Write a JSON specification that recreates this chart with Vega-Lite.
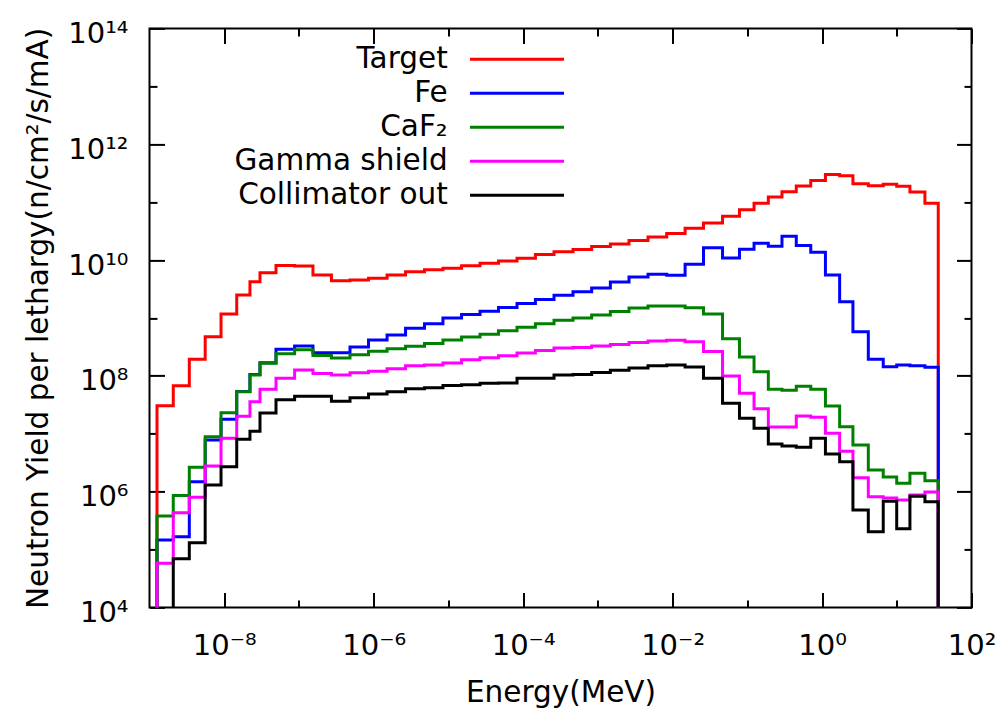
{
  "$schema": "https://vega.github.io/schema/vega-lite/v6.json",
  "width": 822,
  "height": 579,
  "autosize": {"type": "none"},
  "padding": {"left": 149.5, "top": 28.4, "right": 26.5, "bottom": 105.6},
  "background": "white",
  "config": {
    "font": "DejaVu Sans",
    "view": {"stroke": "black", "strokeWidth": 2},
    "axis": {
      "domain": false,
      "grid": false,
      "ticks": true,
      "tickColor": "black",
      "tickWidth": 2,
      "labelColor": "black",
      "labelFont": "DejaVu Sans",
      "titleFont": "DejaVu Sans",
      "titleColor": "black",
      "titleFontWeight": "normal",
      "labelFlush": false,
      "labelOverlap": false
    }
  },
  "data": {
    "values": [
      {"e": 1e-9, "Target": 1, "Fe": 1, "CaF2": 1, "Gamma": 1, "Collimator": 1},
      {"e": 1.26e-9, "Target": 3.05e7, "Fe": 1.46e5, "CaF2": 3.79e5, "Gamma": 5.78e4, "Collimator": 1},
      {"e": 2.08e-9, "Target": 6.75e7, "Fe": 1.66e5, "CaF2": 8.57e5, "Gamma": 4.32e5, "Collimator": 6.9e4},
      {"e": 3.41e-9, "Target": 1.93e8, "Fe": 1.48e6, "CaF2": 2.63e6, "Gamma": 7.98e5, "Collimator": 1.31e5},
      {"e": 5.56e-9, "Target": 4.73e8, "Fe": 7.78e6, "CaF2": 8.87e6, "Gamma": 2.77e6, "Collimator": 1.3e6},
      {"e": 9.06e-9, "Target": 1.17e9, "Fe": 1.77e7, "CaF2": 2.31e7, "Gamma": 8.34e6, "Collimator": 2.69e6},
      {"e": 1.47e-8, "Target": 2.49e9, "Fe": 5.36e7, "CaF2": 5.31e7, "Gamma": 2.0e7, "Collimator": 8.0e6},
      {"e": 2.21e-8, "Target": 4.22e9, "Fe": 1.05e8, "CaF2": 1.03e8, "Gamma": 3.57e7, "Collimator": 1.1e7},
      {"e": 3.01e-8, "Target": 6.04e9, "Fe": 1.68e8, "CaF2": 1.64e8, "Gamma": 5.85e7, "Collimator": 2.28e7},
      {"e": 4.93e-8, "Target": 8.04e9, "Fe": 2.88e8, "CaF2": 2.41e8, "Gamma": 9.06e7, "Collimator": 3.86e7},
      {"e": 8.75e-8, "Target": 7.87e9, "Fe": 3.27e8, "CaF2": 2.82e8, "Gamma": 1.26e8, "Collimator": 4.45e7},
      {"e": 1.54e-7, "Target": 5.51e9, "Fe": 2.51e8, "CaF2": 2.24e8, "Gamma": 1.1e8, "Collimator": 4.44e7},
      {"e": 2.72e-7, "Target": 4.39e9, "Fe": 2.51e8, "CaF2": 2.03e8, "Gamma": 1.03e8, "Collimator": 3.64e7},
      {"e": 4.82e-7, "Target": 4.52e9, "Fe": 3.14e8, "CaF2": 2.31e8, "Gamma": 1.13e8, "Collimator": 4.17e7},
      {"e": 8.53e-7, "Target": 4.83e9, "Fe": 4.15e8, "CaF2": 2.65e8, "Gamma": 1.2e8, "Collimator": 4.85e7},
      {"e": 1.51e-6, "Target": 5.51e9, "Fe": 5.07e8, "CaF2": 2.92e8, "Gamma": 1.32e8, "Collimator": 5.31e7},
      {"e": 2.67e-6, "Target": 6.28e9, "Fe": 6.61e8, "CaF2": 3.23e8, "Gamma": 1.49e8, "Collimator": 5.96e7},
      {"e": 4.79e-6, "Target": 6.79e9, "Fe": 7.94e8, "CaF2": 3.61e8, "Gamma": 1.54e8, "Collimator": 6.21e7},
      {"e": 8.45e-6, "Target": 7.19e9, "Fe": 9.96e8, "CaF2": 4.15e8, "Gamma": 1.66e8, "Collimator": 6.79e7},
      {"e": 1.5e-5, "Target": 7.98e9, "Fe": 1.14e9, "CaF2": 4.68e8, "Gamma": 1.9e8, "Collimator": 7.02e7},
      {"e": 2.65e-5, "Target": 8.77e9, "Fe": 1.3e9, "CaF2": 5.23e8, "Gamma": 2.05e8, "Collimator": 7.41e7},
      {"e": 4.68e-5, "Target": 9.62e9, "Fe": 1.51e9, "CaF2": 5.98e8, "Gamma": 2.21e8, "Collimator": 7.51e7},
      {"e": 8.28e-5, "Target": 1.07e10, "Fe": 1.77e9, "CaF2": 6.9e8, "Gamma": 2.48e8, "Collimator": 9.06e7},
      {"e": 1.46e-4, "Target": 1.25e10, "Fe": 2.08e9, "CaF2": 7.94e8, "Gamma": 2.74e8, "Collimator": 9.06e7},
      {"e": 2.59e-4, "Target": 1.39e10, "Fe": 2.46e9, "CaF2": 9.09e8, "Gamma": 3.02e8, "Collimator": 1.03e8},
      {"e": 4.65e-4, "Target": 1.52e10, "Fe": 2.83e9, "CaF2": 9.96e8, "Gamma": 3.08e8, "Collimator": 1.05e8},
      {"e": 8.26e-4, "Target": 1.71e10, "Fe": 3.28e9, "CaF2": 1.12e9, "Gamma": 3.27e8, "Collimator": 1.14e8},
      {"e": 1.47e-3, "Target": 1.89e10, "Fe": 4.17e9, "CaF2": 1.29e9, "Gamma": 3.47e8, "Collimator": 1.25e8},
      {"e": 2.61e-3, "Target": 2.17e10, "Fe": 5.08e9, "CaF2": 1.48e9, "Gamma": 3.76e8, "Collimator": 1.37e8},
      {"e": 4.69e-3, "Target": 2.49e10, "Fe": 5.69e9, "CaF2": 1.61e9, "Gamma": 3.99e8, "Collimator": 1.49e8},
      {"e": 8.34e-3, "Target": 2.87e10, "Fe": 5.44e9, "CaF2": 1.61e9, "Gamma": 4.1e8, "Collimator": 1.54e8},
      {"e": 1.47e-2, "Target": 3.52e10, "Fe": 8.43e9, "CaF2": 1.5e9, "Gamma": 3.88e8, "Collimator": 1.42e8},
      {"e": 2.59e-2, "Target": 4.36e10, "Fe": 1.63e10, "CaF2": 1.17e9, "Gamma": 2.63e8, "Collimator": 9.06e7},
      {"e": 4.66e-2, "Target": 5.69e10, "Fe": 1.08e10, "CaF2": 4.36e8, "Gamma": 9.93e7, "Collimator": 3.35e7},
      {"e": 7.85e-2, "Target": 7.4e10, "Fe": 1.54e10, "CaF2": 2.11e8, "Gamma": 4.99e7, "Collimator": 1.85e7},
      {"e": 0.123, "Target": 9.53e10, "Fe": 1.94e10, "CaF2": 1.18e8, "Gamma": 2.69e7, "Collimator": 1.24e7},
      {"e": 0.191, "Target": 1.22e11, "Fe": 1.73e10, "CaF2": 5.85e7, "Gamma": 1.31e7, "Collimator": 6.64e6},
      {"e": 0.291, "Target": 1.51e11, "Fe": 2.56e10, "CaF2": 5.62e7, "Gamma": 1.31e7, "Collimator": 6.14e6},
      {"e": 0.452, "Target": 1.9e11, "Fe": 1.78e10, "CaF2": 6.59e7, "Gamma": 2.02e7, "Collimator": 5.82e6},
      {"e": 0.706, "Target": 2.36e11, "Fe": 1.36e10, "CaF2": 5.85e7, "Gamma": 1.92e7, "Collimator": 8.34e6},
      {"e": 1.11, "Target": 3.0e11, "Fe": 5.51e9, "CaF2": 3.01e7, "Gamma": 1.02e7, "Collimator": 4.46e6},
      {"e": 1.72, "Target": 2.84e11, "Fe": 1.91e9, "CaF2": 1.32e7, "Gamma": 4.99e6, "Collimator": 3.28e6},
      {"e": 2.59, "Target": 2.08e11, "Fe": 5.78e8, "CaF2": 6.38e6, "Gamma": 1.73e6, "Collimator": 4.81e5},
      {"e": 4.16, "Target": 1.92e11, "Fe": 1.93e8, "CaF2": 2.36e6, "Gamma": 8.17e5, "Collimator": 2.03e5},
      {"e": 6.59, "Target": 2.04e11, "Fe": 1.44e8, "CaF2": 1.79e6, "Gamma": 7.75e5, "Collimator": 6.82e5},
      {"e": 9.98, "Target": 1.87e11, "Fe": 1.54e8, "CaF2": 1.39e6, "Gamma": 7.16e5, "Collimator": 2.28e5},
      {"e": 15.0, "Target": 1.49e11, "Fe": 1.49e8, "CaF2": 2.07e6, "Gamma": 8.73e5, "Collimator": 8.3e5},
      {"e": 23.8, "Target": 9.53e10, "Fe": 1.4e8, "CaF2": 1.54e6, "Gamma": 9.84e5, "Collimator": 6.7e5},
      {"e": 35.9, "Target": 1, "Fe": 1, "CaF2": 1, "Gamma": 1, "Collimator": 1}
    ]
  },
  "transform": [
    {"fold": ["Target", "Fe", "CaF2", "Gamma", "Collimator"], "as": ["series", "flux"]}
  ],
  "layer": [
    {
      "mark": {"type": "line", "interpolate": "step-after", "strokeWidth": 3, "clip": true},
      "encoding": {
        "x": {
          "field": "e", "type": "quantitative",
          "scale": {"type": "log", "domain": [1e-9, 100], "nice": false},
          "axis": {
            "orient": "bottom",
            "values": [1e-8, 1e-6, 1e-4, 0.01, 1, 100],
            "tickSize": -15,
            "labelPadding": 62.5,
            "labelBaseline": "alphabetic",
            "labelFontSize": 29,
            "labelExpr": "'10' + replace(replace(replace(replace(replace(replace(replace(replace(replace(replace(replace(toString(round(log(datum.value)/LN10)), '-', '⁻'), '0', '⁰'), '1', '¹'), '2', '²'), '3', '³'), '4', '⁴'), '5', '⁵'), '6', '⁶'), '7', '⁷'), '8', '⁸'), '9', '⁹')",
            "title": "Energy(MeV)",
            "titleFontSize": 29.5,
            "titleBaseline": "alphabetic",
            "titleX": 411,
            "titleY": 94.5
          }
        },
        "y": {
          "field": "flux", "type": "quantitative",
          "scale": {"type": "log", "domain": [1e4, 1e14], "nice": false},
          "axis": {
            "orient": "left",
            "values": [1e4, 1e6, 1e8, 1e10, 1e12, 1e14],
            "tickSize": -15,
            "labelPadding": 36.5,
            "labelBaseline": "alphabetic",
            "labelOffset": 14,
            "labelFontSize": 29,
            "labelExpr": "'10' + replace(replace(replace(replace(replace(replace(replace(replace(replace(replace(replace(toString(round(log(datum.value)/LN10)), '-', '⁻'), '0', '⁰'), '1', '¹'), '2', '²'), '3', '³'), '4', '⁴'), '5', '⁵'), '6', '⁶'), '7', '⁷'), '8', '⁸'), '9', '⁹')",
            "title": "Neutron Yield per lethargy(n/cm²/s/mA)",
            "titleFontSize": 29.5,
            "titleBaseline": "alphabetic",
            "titleAngle": -90,
            "titleX": -102.5,
            "titleY": 289.5
          }
        },
        "color": {
          "field": "series", "type": "nominal",
          "scale": {
            "domain": ["Target", "Fe", "CaF2", "Gamma", "Collimator"],
            "range": ["#ff0000", "#0000ff", "#008000", "#ff00ff", "#000000"]
          },
          "legend": {
            "orient": "none",
            "legendX": 352.75,
            "legendY": 16.15,
            "title": null,
            "padding": 0,
            "symbolType": "M-4,0H4",
            "symbolSize": 552.25,
            "symbolStrokeWidth": 3,
            "labelFont": "DejaVu Sans",
            "labelFontSize": 29.5,
            "labelColor": "black",
            "labelAlign": "right",
            "labelOffset": -84.05,
            "labelLimit": 400,
            "rowPadding": 3,
            "labelExpr": "datum.label == 'CaF2' ? 'CaF₂' : datum.label == 'Gamma' ? 'Gamma shield' : datum.label == 'Collimator' ? 'Collimator out' : datum.label"
          }
        }
      }
    },
    {
      "mark": {"type": "point", "opacity": 0},
      "encoding": {
        "x": {
          "field": "e", "type": "quantitative",
          "scale": {"type": "log", "domain": [1e-9, 100], "nice": false},
          "axis": {"orient": "bottom", "values": [1e-7, 1e-5, 1e-3, 0.1, 10], "tickSize": -7.5, "labels": false, "title": null}
        },
        "y": {
          "field": "flux", "type": "quantitative",
          "scale": {"type": "log", "domain": [1e4, 1e14], "nice": false},
          "axis": {"orient": "left", "values": [1e5, 1e7, 1e9, 1e11, 1e13], "tickSize": -7.5, "labels": false, "title": null}
        }
      }
    },
    {
      "mark": {"type": "point", "opacity": 0},
      "encoding": {
        "x": {
          "field": "e", "type": "quantitative",
          "scale": {"type": "log", "domain": [1e-9, 100], "nice": false},
          "axis": {"orient": "top", "values": [1e-8, 1e-6, 1e-4, 0.01, 1, 100], "tickSize": -15, "labels": false, "title": null}
        },
        "y": {
          "field": "flux", "type": "quantitative",
          "scale": {"type": "log", "domain": [1e4, 1e14], "nice": false},
          "axis": {"orient": "right", "values": [1e4, 1e6, 1e8, 1e10, 1e12, 1e14], "tickSize": -15, "labels": false, "title": null}
        }
      }
    },
    {
      "mark": {"type": "point", "opacity": 0},
      "encoding": {
        "x": {
          "field": "e", "type": "quantitative",
          "scale": {"type": "log", "domain": [1e-9, 100], "nice": false},
          "axis": {"orient": "top", "values": [1e-7, 1e-5, 1e-3, 0.1, 10], "tickSize": -7.5, "labels": false, "title": null}
        },
        "y": {
          "field": "flux", "type": "quantitative",
          "scale": {"type": "log", "domain": [1e4, 1e14], "nice": false},
          "axis": {"orient": "right", "values": [1e5, 1e7, 1e9, 1e11, 1e13], "tickSize": -7.5, "labels": false, "title": null}
        }
      }
    }
  ],
  "resolve": {"axis": {"x": "independent", "y": "independent"}}
}
